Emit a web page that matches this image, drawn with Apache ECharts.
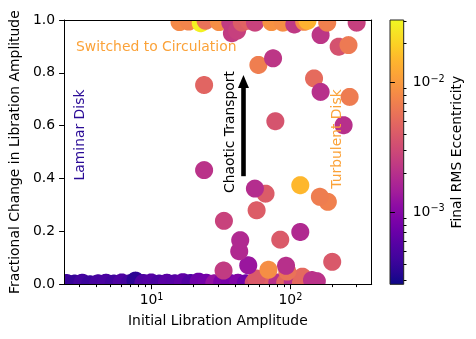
<!DOCTYPE html>
<html><head><meta charset="utf-8">
<script src="https://cdn.jsdelivr.net/npm/echarts@6/dist/echarts.min.js"></script>
<style>html,body{margin:0;padding:0;background:#fff}#c{width:476px;height:339px}</style>
</head><body><div id="c"></div>
<script>
// ---- Data ----
// Laminar disk runs: almost no change in libration amplitude
const laminarAmp  = [2.44, 2.79, 3.17, 3.61, 4.12, 4.70, 5.35, 6.10, 6.95, 7.66, 8.73, 9.95, 11.35, 12.9, 14.7, 16.8, 19.1, 21.8, 24.8, 28.3, 32.3, 36.7, 41.9, 47.7];
const laminarFrac = [0.005, 0.003, 0.006, 0.000, 0.004, 0.006, 0.003, 0.007, 0.004, 0.014, 0.005, 0.007, 0.003, 0.006, 0.004, 0.008, 0.005, 0.010, 0.006, 0.004, 0.008, 0.005, 0.006, 0.004];
const laminarEcc  = [4.3e-4, 4.0e-4, 4.6e-4, 4.2e-4, 4.8e-4, 5.0e-4, 4.5e-4, 5.2e-4, 4.7e-4, 3.6e-4, 5.3e-4, 5.6e-4, 5.0e-4, 6.0e-4, 5.8e-4, 6.3e-4, 5.5e-4, 7.5e-4, 8.0e-4, 1.2e-3, 9.0e-4, 8.5e-4, 9.5e-4, 7.5e-4];

// Turbulent / chaotic runs
const chaosAmp  = [54.4, 62.0, 70.6, 80.5, 91.7, 104, 119, 136, 155, 57, 122, 143, 95, 93, 33, 49.7, 69.5, 200, 42.8, 43.5, 117.8, 84.5, 33.2, 57.1, 186, 163, 117.8, 66.2, 55.5, 23.9, 241.6, 77.9, 267, 148, 165, 58.8, 75, 23.9];
const chaosFrac = [0.006, 0.010, 0.004, 0.007, 0.006, 0.010, 0.004, 0.006, 0.012, 0.022, 0.029, 0.016, 0.048, 0.070, 0.052, 0.072, 0.055, 0.085, 0.125, 0.167, 0.198, 0.169, 0.240, 0.280, 0.312, 0.331, 0.375, 0.343, 0.362, 0.432, 0.602, 0.617, 0.709, 0.779, 0.728, 0.830, 0.855, 0.754];
const chaosEcc  = [3.2e-3, 2.2e-3, 4.5e-3, 2.0e-3, 4.8e-3, 2.1e-3, 5.0e-3, 2.3e-3, 2.1e-3, 4.0e-3, 5.0e-3, 2.1e-3, 5.8e-3, 2.0e-3, 2.4e-3, 1.3e-3, 8.5e-3, 3.9e-3, 1.8e-3, 1.8e-3, 1.8e-3, 4.0e-3, 2.7e-3, 4.2e-3, 7.0e-3, 6.7e-3, 1.5e-2, 4.1e-3, 1.9e-3, 2.1e-3, 2.0e-3, 3.6e-3, 6.6e-3, 5.2e-3, 2.0e-3, 6.8e-3, 2.2e-3, 4.7e-3];

// Runs that switched to circulation
const switchedAmp  = [15.9, 18.5, 22.6, 24.5, 30.6, 36.9, 37.9, 41.3, 44.7, 49.9, 55.6, 73, 88.3, 106.7, 125.7, 132.7, 165, 184, 222.6, 262, 300];
const switchedFrac = [0.992, 0.994, 0.988, 0.997, 0.992, 0.990, 0.950, 0.960, 0.990, 0.997, 0.990, 0.992, 0.990, 0.983, 0.993, 0.997, 0.943, 0.990, 0.899, 0.905, 0.990];
const switchedEcc  = [8.0e-3, 7.5e-3, 2.8e-2, 5.7e-3, 8.5e-3, 2.4e-3, 2.4e-3, 2.6e-3, 4.2e-3, 4.6e-3, 2.7e-3, 9.0e-3, 8.5e-3, 2.3e-3, 8.0e-3, 1.4e-2, 2.2e-3, 7.0e-3, 3.5e-3, 6.4e-3, 2.6e-3];

// Axis ranges and tick values
const xRange = [2.34, 385];
const xMajorTicks = [10, 100];
const xMinorTicks = [3, 4, 5, 6, 7, 8, 9, 20, 30, 40, 50, 60, 70, 80, 90, 200, 300];
const eccRange = [2.78e-4, 3.05e-2];
const cbMajorTicks = [1e-3, 1e-2];
const cbMinorTicks = [3e-4, 4e-4, 5e-4, 6e-4, 7e-4, 8e-4, 9e-4, 2e-3, 3e-3, 4e-3, 5e-3, 6e-3, 7e-3, 8e-3, 9e-3, 2e-2, 3e-2];

// Arrow annotation (data coordinates)
const arrowAmp = 45.9;
const arrowFrac = [0.409, 0.767];

const plasma = ['#0d0887','#2a0593','#41049d','#5402a3','#6a00a8','#7e03a8','#8f0da4','#a21d9a','#b12a90','#bf3984','#cc4778','#d6556d','#e16462','#ea7457','#f2844b','#f89540','#fca636','#feb72d','#fcce25','#f7e225','#f0f921'];

function rowsOf(xs, ys, es) { return xs.map((x, i) => [x, ys[i], Math.log10(es[i])]); }
const points = [].concat(rowsOf(laminarAmp, laminarFrac, laminarEcc),
                         rowsOf(chaosAmp, chaosFrac, chaosEcc),
                         rowsOf(switchedAmp, switchedFrac, switchedEcc));

const FS = 13.9, FONT = 'DejaVu Sans', R = 9;
const sup = { fontSize: 9.7, fontFamily: FONT, color: '#000', padding: [0, 0, 7, 0] };
const powLabel = v => {
  const p = Math.round(Math.log10(v));
  return '10{sup|' + (p < 0 ? '\u2212' + (-p) : p) + '}';
};
const axisLine = { show: true, lineStyle: { color: '#000', width: 1 } };
const tickStyle = { color: '#000', width: 1 };

const chart = echarts.init(document.getElementById('c'), null, { renderer: 'canvas' });
const option = {
  animation: false,
  textStyle: { fontFamily: FONT },
  grid: [
    { left: 61, top: 20, width: 310.7, height: 264.3 },
    { left: 390, top: 20, width: 13.7, height: 264.3 }
  ],
  xAxis: [
    { type: 'log', gridIndex: 0, min: xRange[0], max: xRange[1], position: 'bottom', z: 10,
      axisLine: axisLine,
      axisTick: { show: true, customValues: xMajorTicks, length: 4.9, lineStyle: tickStyle },
      axisLabel: { customValues: xMajorTicks, formatter: powLabel, rich: { sup: sup }, margin: 8, fontSize: FS, color: '#000' },
      splitLine: { show: false }, minorTick: { show: false },
      name: 'Initial Libration Amplitude', nameLocation: 'middle', nameGap: 30,
      nameTextStyle: { fontSize: FS, color: '#000' } },
    { type: 'log', gridIndex: 0, min: xRange[0], max: xRange[1], position: 'bottom', z: 10,
      axisLine: { show: false },
      axisTick: { show: true, customValues: xMinorTicks, length: 2.8, lineStyle: tickStyle },
      axisLabel: { show: false }, splitLine: { show: false } },
    { type: 'log', gridIndex: 0, min: xRange[0], max: xRange[1], position: 'top', z: 10,
      axisLine: axisLine, axisTick: { show: false }, axisLabel: { show: false }, splitLine: { show: false } },
    { type: 'value', gridIndex: 1, min: 0, max: 1, show: false }
  ],
  yAxis: [
    { type: 'value', gridIndex: 0, min: 0, max: 1, interval: 0.2, z: 10,
      axisLine: axisLine,
      axisTick: { show: true, length: 4.9, lineStyle: tickStyle },
      axisLabel: { formatter: v => v.toFixed(1), margin: 9, fontSize: FS, color: '#000' },
      splitLine: { show: false },
      name: 'Fractional Change in Libration Amplitude', nameLocation: 'middle', nameGap: 27, nameRotate: 90,
      nameTextStyle: { fontSize: FS, color: '#000' } },
    { type: 'value', gridIndex: 0, min: 0, max: 1, position: 'right', z: 10,
      axisLine: axisLine, axisTick: { show: false }, axisLabel: { show: false }, splitLine: { show: false } },
    { type: 'log', gridIndex: 1, min: eccRange[0], max: eccRange[1], position: 'right', z: 10,
      axisLine: { show: false },
      axisTick: { show: true, customValues: cbMajorTicks, length: 4.9, lineStyle: tickStyle },
      axisLabel: { customValues: cbMajorTicks, formatter: powLabel, rich: { sup: sup }, margin: 9, fontSize: FS, color: '#000' },
      splitLine: { show: false },
      name: 'Final RMS Eccentricity', nameLocation: 'middle', nameGap: 47, nameRotate: 90,
      nameTextStyle: { fontSize: FS, color: '#000' } },
    { type: 'log', gridIndex: 1, min: eccRange[0], max: eccRange[1], position: 'right', z: 10,
      axisLine: { show: false },
      axisTick: { show: true, customValues: cbMinorTicks, length: 2.8, lineStyle: tickStyle },
      axisLabel: { show: false }, splitLine: { show: false } }
  ],
  visualMap: {
    show: false, type: 'continuous', seriesIndex: 0, dimension: 2,
    min: Math.log10(eccRange[0]), max: Math.log10(eccRange[1]),
    inRange: { color: plasma }
  },
  series: [
    { type: 'custom', xAxisIndex: 0, yAxisIndex: 0, z: 2,
      data: points, encode: { x: 0, y: 1 },
      renderItem: function (params, api) {
        // marker clipped to the plotting area (like matplotlib's axes clipping)
        const p = api.coord([api.value(0), api.value(1)]);
        const cs = params.coordSys;
        const x0 = cs.x, x1 = cs.x + cs.width, y0 = cs.y, y1 = cs.y + cs.height;
        const pts = [];
        const N = 64;
        for (let i = 0; i < N; i++) {
          const a = 2 * Math.PI * i / N;
          pts.push([Math.min(x1, Math.max(x0, p[0] + R * Math.cos(a))),
                    Math.min(y1, Math.max(y0, p[1] + R * Math.sin(a)))]);
        }
        return { type: 'polygon', shape: { points: pts }, style: { fill: api.visual('color') } };
      } },
    { type: 'custom', xAxisIndex: 3, yAxisIndex: 2, clip: false, z: 2,
      data: [[0.5, cbMajorTicks[0]]],
      renderItem: function (params, api) {
        const a = api.coord([0, eccRange[1]]);
        const b = api.coord([1, eccRange[0]]);
        const stops = plasma.map((c, i) => ({ offset: i / (plasma.length - 1), color: c }));
        return { type: 'rect', shape: { x: a[0], y: a[1], width: b[0] - a[0], height: b[1] - a[1] },
                 style: { fill: new echarts.graphic.LinearGradient(0, 1, 0, 0, stops), stroke: '#222', lineWidth: 1 } };
      } },
    { type: 'line', xAxisIndex: 0, yAxisIndex: 0, data: [], z: 5,
      markLine: { silent: true, animation: false, symbol: ['none', 'triangle'], symbolSize: [11, 13],
        lineStyle: { color: '#000', width: 4.6, type: 'solid' }, label: { show: false },
        data: [[ { coord: [arrowAmp, arrowFrac[0]] }, { coord: [arrowAmp, arrowFrac[1]] } ]] } }
  ],
  graphic: [
    { type: 'text', x: 76, y: 47, z: 20,
      style: { text: 'Switched to Circulation', fill: '#fba238', fontSize: FS, fontFamily: FONT, align: 'left', verticalAlign: 'middle' } },
    { type: 'text', x: 80, y: 135, rotation: Math.PI / 2, z: 20,
      style: { text: 'Laminar Disk', fill: '#2a0b96', fontSize: FS, fontFamily: FONT, align: 'center', verticalAlign: 'middle' } },
    { type: 'text', x: 230.5, y: 132, rotation: Math.PI / 2, z: 20,
      style: { text: 'Chaotic Transport', fill: '#000', fontSize: FS, fontFamily: FONT, align: 'center', verticalAlign: 'middle' } },
    { type: 'text', x: 337.7, y: 139, rotation: Math.PI / 2, z: 20,
      style: { text: 'Turbulent Disk', fill: '#fba238', fontSize: FS, fontFamily: FONT, align: 'center', verticalAlign: 'middle' } }
  ]
};
chart.setOption(option);
</script>
</body></html>
